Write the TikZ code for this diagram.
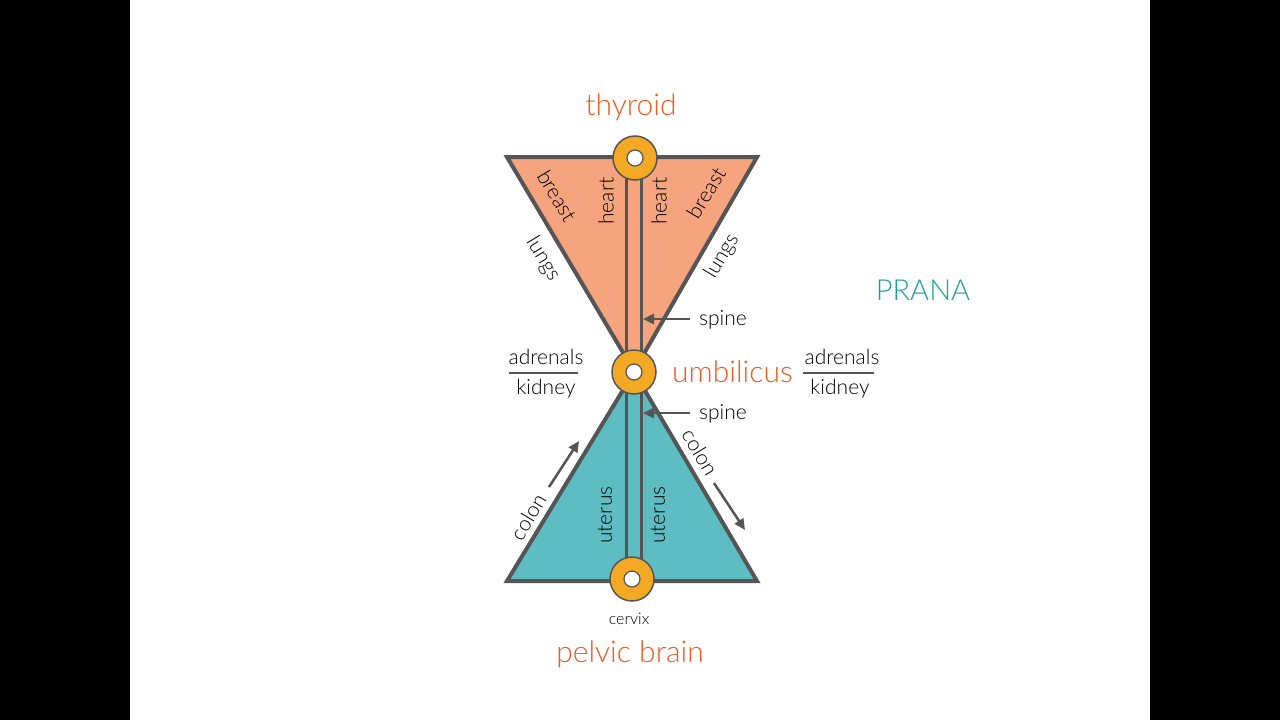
\documentclass[tikz,border=0pt]{standalone}
\usepackage{fontspec}
\setmainfont{Lato}[UprightFont={* Light}]
\usetikzlibrary{arrows.meta}
\definecolor{salmon}{HTML}{F6A47E}
\definecolor{tealf}{HTML}{5DBDC3}
\definecolor{ringc}{HTML}{F3A924}
\definecolor{orangetxt}{HTML}{F05A22}
\definecolor{pranac}{HTML}{1AA19E}
\definecolor{edge}{HTML}{555555}
\tikzset{
  tri/.style={draw=edge, line width=4pt, line join=miter},
  ring/.style={circle, draw=edge, line width=1.5pt, fill=ringc, minimum size=44pt, inner sep=0pt},
  hole/.style={circle, draw=edge, line width=1.2pt, fill=white, minimum size=16pt, inner sep=0pt},
  spineline/.style={draw=edge, line width=3pt},
  lbl/.style={text=black, font=\fontsize{21}{24}\selectfont, inner sep=0pt},
  small/.style={text=black, font=\fontsize{16}{18}\selectfont, inner sep=0pt},
  big/.style={text=orangetxt, font=\fontsize{30}{34}\selectfont, inner sep=0pt},
  arr/.style={draw=edge, line width=2.5pt, -{Triangle[length=11pt,width=10pt]}},
  frac/.style={draw=edge, line width=2.5pt}
}
\begin{document}
\begin{tikzpicture}[x=1pt,y=-1pt]
\useasboundingbox (0,0) rectangle (1280,720);
\fill[white] (0,0) rectangle (1280,720);
\fill[black] (0,0) rectangle (130,720);
\fill[black] (1150,0) rectangle (1280,720);
% triangles
\filldraw[tri, fill=salmon] (507,157) -- (757,157) -- (634,371) -- cycle;
\filldraw[tri, fill=tealf] (507,581) -- (757,581) -- (634,372) -- cycle;
% spine
\coordinate (sTL) at (626.5,158);
\coordinate (sBL) at (626.5,579);
\coordinate (sTR) at (641.5,158);
\coordinate (sBR) at (641.5,579);
\draw[spineline] (sTL) -- (sBL);
\draw[spineline] (sTR) -- (sBR);
% rings
\node[ring] (thy) at (635,158) {};
\node[hole] at (thy.center) {};
\node[ring] (umb) at (634,372) {};
\node[hole] at (umb.center) {};
\node[ring] (pel) at (632,579) {};
\node[hole] at (pel.center) {};
% titles
\node[big] (thyroid) at (631,107) {thyroid};
\node[big, anchor=west] (umbilicus) at (672,372) {umbilicus};
\node[big] (pelvic) at (630,654) {pelvic brain};
\node[text=pranac, font=\fontsize{29}{32}\selectfont, inner sep=0pt] (prana) at (923,290) {PRANA};
% top labels
\node[lbl, rotate=-59] (breastL) at (557,196) {breast};
\node[lbl, rotate=-59] (lungsL) at (543,259) {lungs};
\node[lbl, rotate=90] (heartL) at (606,201) {heart};
\node[lbl, rotate=90] (heartR) at (659,201) {heart};
\node[lbl, rotate=59] (breastR) at (706,193) {breast};
\node[lbl, rotate=59] (lungsR) at (722,256) {lungs};
% spine labels
\node[lbl, anchor=west] (spine1) at (699,320) {spine};
\node[lbl, anchor=west] (spine2) at (699,414) {spine};
\coordinate (sp1) at (643,319);
\coordinate (sp2) at (643,413);
\draw[arr] (690,319) -- (sp1);
\draw[arr] (690,413) -- (sp2);
% adrenals / kidney
\node[lbl] (adrL) at (546,357) {adrenals};
\node[lbl] (kidL) at (546,389) {kidney};
\coordinate (fL1) at (509,373);
\coordinate (fL2) at (578,373);
\draw[frac] (fL1) -- (fL2);
\node[lbl] (adrR) at (842,357) {adrenals};
\node[lbl] (kidR) at (840,389) {kidney};
\coordinate (fR1) at (803,373);
\coordinate (fR2) at (874,373);
\draw[frac] (fR1) -- (fR2);
% bottom labels
\node[lbl, rotate=59] (colonL) at (528,517) {colon};
\node[lbl, rotate=-59] (colonR) at (700,452) {colon};
\coordinate (cL1) at (549,487);
\coordinate (cL2) at (579,441);
\coordinate (cR1) at (714,483);
\coordinate (cR2) at (745,530);
\draw[arr] (cL1) -- (cL2);
\draw[arr] (cR1) -- (cR2);
\node[lbl, rotate=90] (uterusL) at (605,515) {uterus};
\node[lbl, rotate=90] (uterusR) at (658,515) {uterus};
\node[small] (cervix) at (629,619) {cervix};
\end{tikzpicture}
\end{document}
